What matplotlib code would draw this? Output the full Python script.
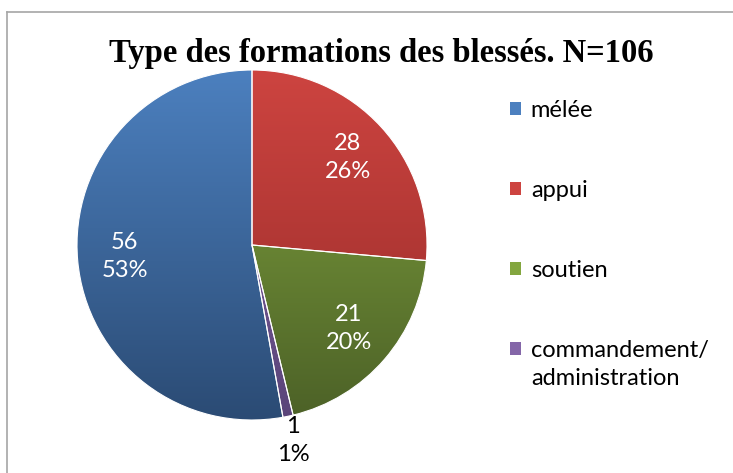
import numpy as np
import matplotlib.pyplot as plt
from matplotlib.colors import LinearSegmentedColormap
from matplotlib.lines import Line2D
from matplotlib.patches import Patch, Rectangle
from matplotlib.legend_handler import HandlerPatch

# Data
CATEGORIES = ["mélée", "appui", "soutien", "commandement/\nadministration"]
COUNTS = [56, 28, 21, 1]
TOTAL = sum(COUNTS)
TITLE = "Type des formations des blessés. N=%d" % TOTAL

# Colours (top of pie -> bottom of pie)
TOP_COLORS = ["#4c80bf", "#cd4440", "#83a63f", "#8466a8"]
BOTTOM_COLORS = ["#2b4b74", "#962b29", "#4c6127", "#5a4479"]
LABEL_COLORS = ["white", "white", "white", "black"]
LABEL_DIST = [0.73, 0.74, 0.73, 1.14]

W, H = 733, 473
CX, CY, R = 252, 245, 175
FS = 17

fig = plt.figure(figsize=(W / 100, H / 100), dpi=100)
fig.patch.set_facecolor("white")

# chart frame (left + top edge visible)
fig.add_artist(Line2D([7 / W, 7 / W], [0, 1 - 12 / H], color="#a6a6a6", lw=1.2))
fig.add_artist(Line2D([7 / W, 1], [1 - 12 / H, 1 - 12 / H], color="#a6a6a6", lw=1.2))

ax = fig.add_axes([(CX - R) / W, (H - CY - R) / H, 2 * R / W, 2 * R / H])
start = 90 + 360.0 * COUNTS[0] / TOTAL
wedges, _ = ax.pie(COUNTS, startangle=start, counterclock=False, radius=1,
                   colors=TOP_COLORS,
                   wedgeprops=dict(edgecolor="white", linewidth=0.8))
ax.set_xlim(-1, 1)
ax.set_ylim(-1, 1)
ax.axis("off")

# vertical gradient fill inside each wedge
grad = np.linspace(0, 1, 256).reshape(-1, 1)
for w, c1, c2 in zip(wedges, TOP_COLORS, BOTTOM_COLORS):
    cmap = LinearSegmentedColormap.from_list("g", [c1, c2])
    im = ax.imshow(grad, cmap=cmap, extent=[-1, 1, -1, 1], aspect="auto",
                   origin="upper", zorder=w.get_zorder() + 0.1)
    im.set_clip_path(w)
    w.set_facecolor("none")
    w.set_zorder(w.get_zorder() + 0.2)

# data labels: value and percentage
for w, n, col, d in zip(wedges, COUNTS, LABEL_COLORS, LABEL_DIST):
    ang = np.deg2rad((w.theta1 + w.theta2) / 2)
    x, y = d * np.cos(ang), d * np.sin(ang)
    ax.text(x, y, "%d\n%d%%" % (n, round(100.0 * n / TOTAL)), ha="center",
            va="center", color=col, fontsize=FS, family="Lato",
            linespacing=1.4, zorder=5)

fig.text(381 / W, 1 - 53 / H, TITLE, ha="center", va="center",
         fontsize=23.5, fontweight="bold", family="Liberation Serif")


def top_line_patch(legend, orig_handle, xdescent, ydescent, width, height,
                   fontsize):
    # marker aligned with the first line of a two-line label
    return Rectangle((-xdescent, -ydescent + 0.7 * fontsize), width, height)


handles = [Patch(facecolor=c, edgecolor="none") for c in TOP_COLORS]
leg = fig.legend(handles, CATEGORIES, loc="upper left",
                 bbox_to_anchor=(489 / W, 1 - 79 / H), frameon=False,
                 prop=dict(family="Lato", size=FS), handlelength=0.47,
                 handleheight=0.47, handletextpad=0.4, labelspacing=2.5,
                 handler_map={handles[-1]: HandlerPatch(patch_func=top_line_patch)})
for t in leg.get_texts():
    t.set_linespacing(1.4)

fig.savefig("out.png", dpi=100)
